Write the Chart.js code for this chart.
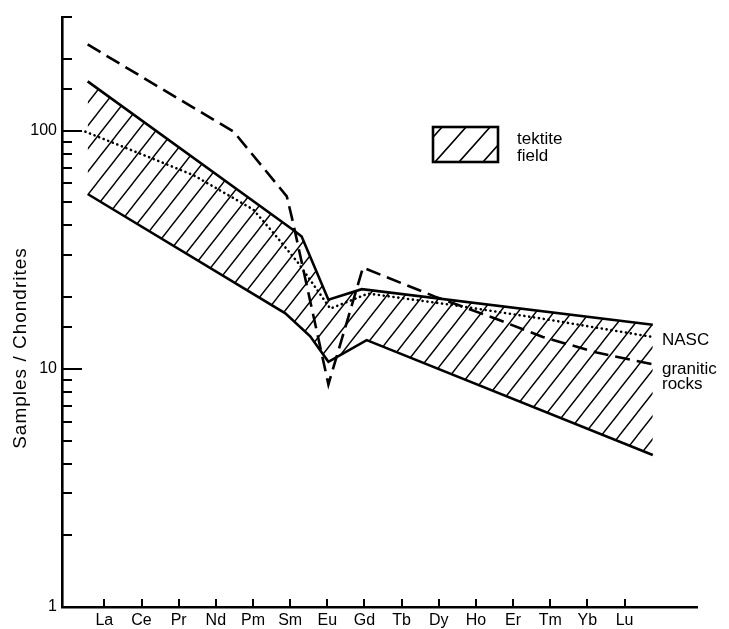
<!DOCTYPE html>
<html>
<head>
<meta charset="utf-8">
<script src="https://cdn.jsdelivr.net/npm/chart.js@4.4.1/dist/chart.umd.min.js"></script>
<style>
  html, body { margin: 0; padding: 0; background: #fff; }
  canvas { display: block; }
</style>
</head>
<body>
<canvas id="reeChart" width="729" height="629"></canvas>
<script>
// x positions are in element-index units (La = 0 ... Lu = 14)
const elements = ['La', 'Ce', 'Pr', 'Nd', 'Pm', 'Sm', 'Eu', 'Gd', 'Tb', 'Dy', 'Ho', 'Er', 'Tm', 'Yb', 'Lu'];
const yTickLabels = [1, 10, 100];

const tektiteUpperX = [-0.45, 5.13, 5.31, 6.03, 6.93, 14.76];
const tektiteUpperY = [161, 37.8, 35.9, 19.5, 21.6, 15.3];

const tektiteLowerX = [-0.45, 4.87, 5.54, 6.03, 7.06, 14.76];
const tektiteLowerY = [54.2, 17.1, 13.7, 10.7, 13.2, 4.35];

const nascX = [-0.51, 1.51, 2.40, 3.30, 4.01, 4.55, 5.22, 6.08, 7.10, 9.30, 11.72, 14.76];
const nascY = [99, 74, 65, 54, 46.6, 37.2, 27.8, 17.9, 20.7, 18.6, 16.3, 13.6];

const graniteX = [-0.45, 3.48, 4.91, 5.08, 6.03, 6.96, 8.90, 10.59, 11.80, 13.25, 14.81];
const graniteY = [230, 99, 53, 41, 8.6, 26.6, 20.1, 16.1, 13.6, 11.7, 10.4];

const FONT = '"Liberation Sans", Arial, Helvetica, sans-serif';

function toPoints(xs, ys) {
    return xs.map((x, i) => ({ x: x, y: ys[i] }));
}

// diagonal hatch pattern
function makeHatch(w, h, lw, ox, oy) {
    const c = document.createElement('canvas');
    c.width = w;
    c.height = h;
    const g = c.getContext('2d');
    g.strokeStyle = '#000';
    g.lineWidth = lw;
    g.beginPath();
    for (let n = 0; n <= 2; n++) {
        g.moveTo(w * (n - 1) - w * 0.5, h * 1.5);
        g.lineTo(w * n + w * 0.5, -h * 0.5);
    }
    g.stroke();
    const ctx = document.getElementById('reeChart').getContext('2d');
    const p = ctx.createPattern(c, 'repeat');
    p.setTransform(new DOMMatrix().translate(ox, oy - h));
    return p;
}

const fieldHatch = makeHatch(18, 23, 1.4, 457, 367);
const legendHatch = makeHatch(24, 27, 1.6, 435, 162);

const decorations = {
    id: 'decorations',
    afterDraw(chart) {
        const { ctx, scales: { x, y } } = chart;
        ctx.save();
        ctx.strokeStyle = '#000';
        ctx.fillStyle = '#000';
        ctx.lineWidth = 2;

        // inward tick marks on the y axis
        y.ticks.forEach(t => {
            const py = Math.round(y.getPixelForValue(t.value));
            const len = yTickLabels.includes(t.value) ? 20 : 10;
            ctx.beginPath();
            ctx.moveTo(y.right, py);
            ctx.lineTo(y.right + len, py);
            ctx.stroke();
        });
        // inward tick marks on the x axis
        x.ticks.forEach(t => {
            const px = Math.round(x.getPixelForValue(t.value));
            ctx.beginPath();
            ctx.moveTo(px, x.top);
            ctx.lineTo(px, x.top - 8);
            ctx.stroke();
        });

        // y axis title
        ctx.save();
        ctx.translate(21, 348);
        ctx.rotate(-Math.PI / 2);
        ctx.font = '19px ' + FONT;
        ctx.letterSpacing = '1px';
        ctx.textAlign = 'center';
        ctx.textBaseline = 'middle';
        ctx.fillText('Samples / Chondrites', 0, 0);
        ctx.restore();

        // legend box
        ctx.fillStyle = legendHatch;
        ctx.fillRect(433, 127, 65, 35);
        ctx.lineWidth = 2.6;
        ctx.strokeRect(433, 127, 65, 35);
        ctx.fillStyle = '#000';
        ctx.font = '17px ' + FONT;
        ctx.textAlign = 'left';
        ctx.textBaseline = 'alphabetic';
        ctx.fillText('tektite', 517, 143.5);
        ctx.fillText('field', 517, 161);

        // line labels
        ctx.fillText('NASC', 662, 345);
        ctx.fillText('granitic', 662, 373.5);
        ctx.fillText('rocks', 662, 389);
        ctx.restore();
    }
};

new Chart(document.getElementById('reeChart'), {
    type: 'line',
    data: {
        datasets: [
            {
                label: 'tektite field upper',
                data: toPoints(tektiteUpperX, tektiteUpperY),
                borderColor: '#000',
                borderWidth: 2.6,
                backgroundColor: fieldHatch,
                fill: '+1'
            },
            {
                label: 'tektite field lower',
                data: toPoints(tektiteLowerX, tektiteLowerY),
                borderColor: '#000',
                borderWidth: 2.6,
                fill: false
            },
            {
                label: 'NASC',
                data: toPoints(nascX, nascY),
                borderColor: '#000',
                borderWidth: 2.6,
                borderDash: [0.1, 4.8],
                borderCapStyle: 'round',
                fill: false
            },
            {
                label: 'granitic rocks',
                data: toPoints(graniteX, graniteY),
                borderColor: '#000',
                borderWidth: 2.6,
                borderDash: [15, 7],
                fill: false
            }
        ]
    },
    options: {
        responsive: false,
        animation: false,
        devicePixelRatio: 1,
        layout: { padding: { top: 17, right: 32, left: 0, bottom: 0 } },
        elements: {
            point: { radius: 0 },
            line: { tension: 0, borderJoinStyle: 'miter' }
        },
        plugins: {
            legend: { display: false },
            tooltip: { enabled: false }
        },
        scales: {
            x: {
                type: 'linear',
                min: -1.14,
                max: 15.95,
                afterBuildTicks: s => { s.ticks = elements.map((e, i) => ({ value: i })); },
                afterFit: s => { s.height = 22; },
                grid: { display: false, drawTicks: false },
                border: { display: true, color: '#000', width: 2.6 },
                ticks: {
                    autoSkip: false,
                    maxRotation: 0,
                    padding: 4,
                    color: '#000',
                    font: { family: FONT, size: 16 },
                    callback: v => elements[v]
                }
            },
            y: {
                type: 'logarithmic',
                min: 1,
                max: 300,
                afterFit: s => { s.width = 62; },
                grid: { display: false, drawTicks: false },
                border: { display: true, color: '#000', width: 2.6 },
                ticks: {
                    autoSkip: false,
                    padding: 5,
                    color: '#000',
                    font: { family: FONT, size: 16 },
                    callback: v => yTickLabels.includes(v) ? String(v) : ''
                }
            }
        }
    },
    plugins: [decorations]
});
</script>
</body>
</html>
